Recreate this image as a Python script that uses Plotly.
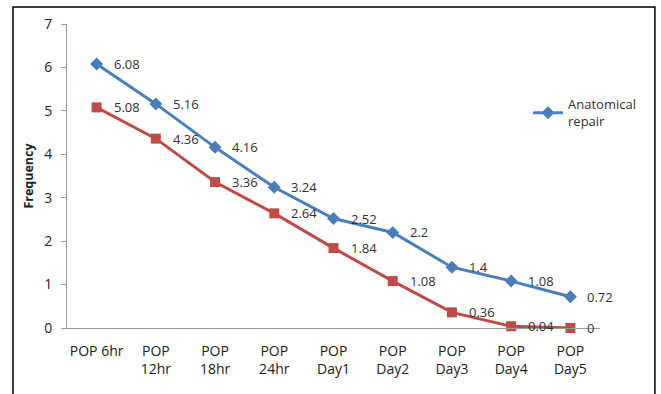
import plotly.graph_objects as go

categories = ["POP 6hr", "POP<br>12hr", "POP<br>18hr", "POP<br>24hr", "POP<br>Day1",
              "POP<br>Day2", "POP<br>Day3", "POP<br>Day4", "POP<br>Day5"]
anatomical_repair = [6.08, 5.16, 4.16, 3.24, 2.52, 2.2, 1.4, 1.08, 0.72]
second_series = [5.08, 4.36, 3.36, 2.64, 1.84, 1.08, 0.36, 0.04, 0]

x_idx = list(range(len(categories)))
font_family = "Open Sans, Liberation Sans, sans-serif"
label_color = "#303030"

fig = go.Figure()

fig.add_trace(go.Scatter(
    x=x_idx, y=anatomical_repair, mode="lines+markers",
    name="Anatomical<br>repair",
    line=dict(color="#4A7EBB", width=3),
    marker=dict(symbol="diamond", size=10, color="#4A7EBB"),
    cliponaxis=False,
))

fig.add_trace(go.Scatter(
    x=x_idx, y=second_series, mode="lines+markers",
    showlegend=False,
    line=dict(color="#BE4B48", width=3),
    marker=dict(symbol="square", size=10, color="#BE4B48"),
    cliponaxis=False,
))

# data labels, set a little to the right of each point
for series in (anatomical_repair, second_series):
    for xi, v in zip(x_idx, series):
        fig.add_annotation(
            x=xi, y=v, text=f"{v:g}", showarrow=False,
            xanchor="left", yanchor="middle", xshift=15,
            font=dict(size=13, color=label_color, family=font_family),
        )

# outer chart frame
fig.add_shape(type="rect", xref="paper", yref="paper",
              x0=-0.1013, x1=1.103, y0=-0.3, y1=1.056,
              line=dict(color="#000000", width=1.5), layer="below")

fig.update_layout(
    width=661, height=394,
    margin=dict(l=67, r=61, t=24, b=66),
    paper_bgcolor="white", plot_bgcolor="white",
    font=dict(family=font_family, color="#202020"),
    showlegend=True,
    legend=dict(x=0.865, y=0.785, xanchor="left", yanchor="top",
                bgcolor="rgba(0,0,0,0)", font=dict(size=13, color="#303030"),
                itemwidth=30, tracegroupgap=0),
    xaxis=dict(
        tickmode="array", tickvals=x_idx, ticktext=categories,
        range=[-0.5, len(categories) - 0.5],
        showgrid=False, zeroline=False,
        showline=True, linecolor="#9a9a9a", linewidth=1,
        ticks="", ticklabelstandoff=10,
        tickfont=dict(size=14, color="#202020"),
    ),
    yaxis=dict(
        range=[0, 7], dtick=1, showgrid=False, zeroline=False,
        showline=True, linecolor="#9a9a9a", linewidth=1,
        ticks="outside", ticklen=5, tickcolor="#9a9a9a",
        ticklabelstandoff=6,
        tickfont=dict(size=14, color="#202020"),
        title=dict(text="<b>Frequency</b>", font=dict(size=12.5, color="#202020"), standoff=7),
    ),
)

fig.write_html("out.html")
